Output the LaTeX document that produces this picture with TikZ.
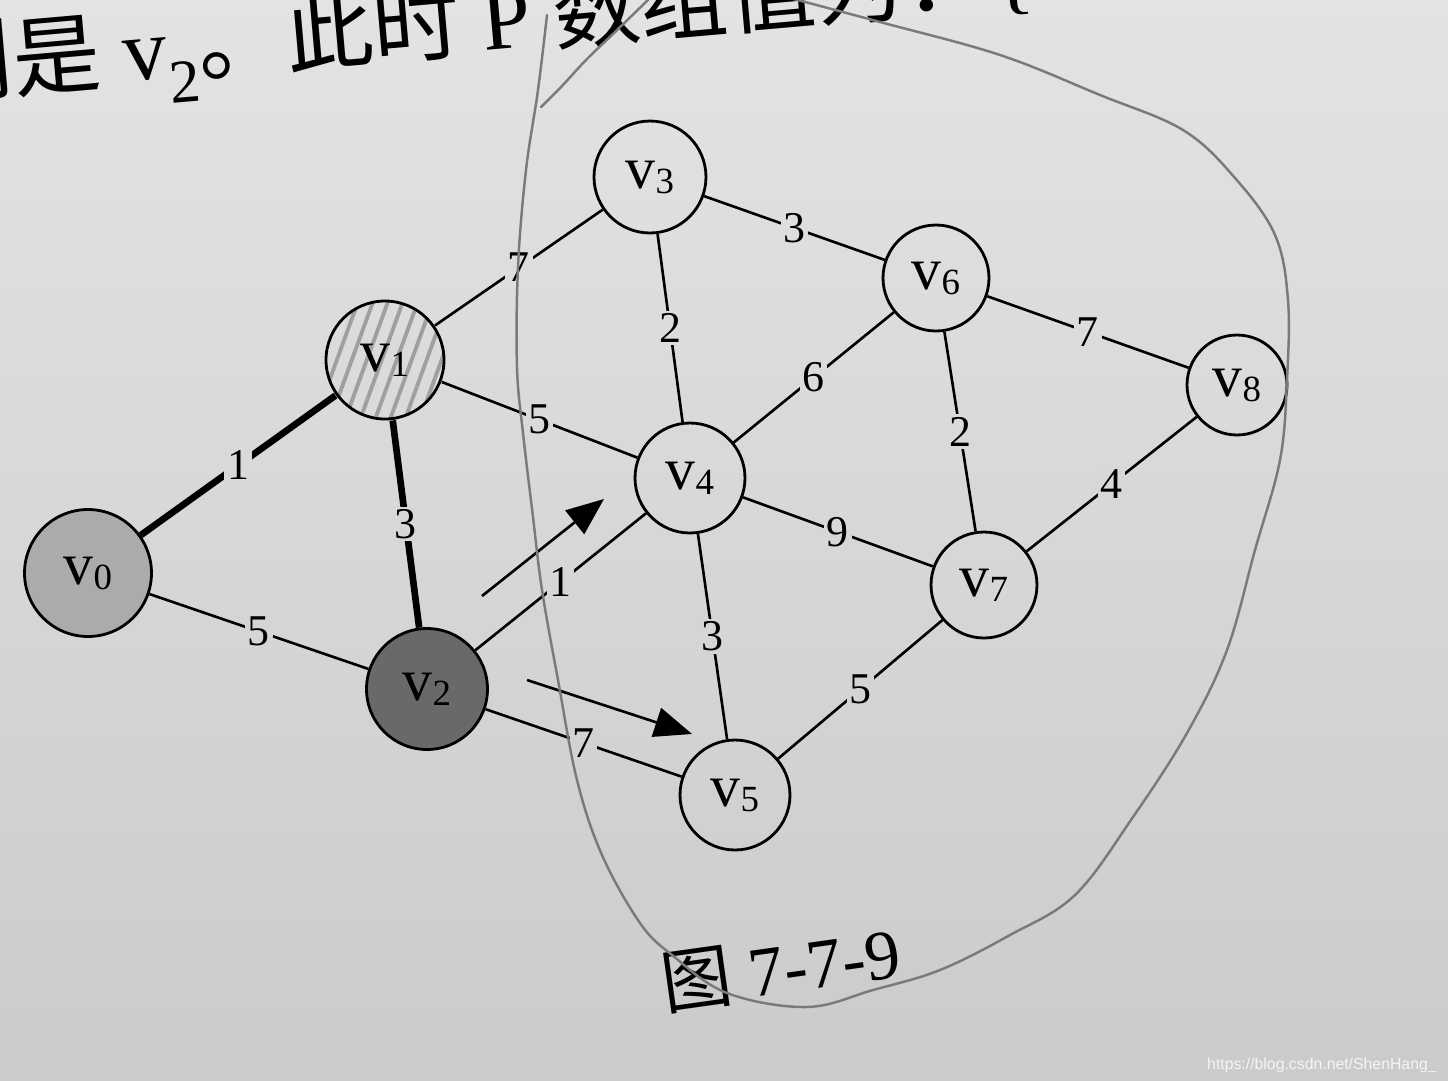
\documentclass[tikz,border=0pt]{standalone}
\usepackage{fontspec}
\setmainfont{Liberation Serif}
\newfontfamily\cjk{Noto Sans CJK SC}
\newfontfamily\wmfont{Liberation Sans}
\usetikzlibrary{arrows.meta, patterns.meta}
\definecolor{paperTop}{RGB}{229,227,226}
\definecolor{paperBot}{RGB}{204,202,202}
\definecolor{lightdot}{RGB}{172,170,170}
\definecolor{darkdot}{RGB}{106,104,104}
\definecolor{pencilgray}{RGB}{122,122,124}
\newcommand{\vlab}[1]{v\raisebox{-0.1cm}{\fontsize{21}{21}\selectfont #1}}
\tikzset{
main/.style={draw, circle, line width=1.6pt, inner sep=0pt, font=\fontsize{34}{34}\selectfont}, % the vertices
wt/.style={fill=paperTop!#1!paperBot, inner sep=1.5pt, font=\fontsize{25}{25}\selectfont}, % weight on an edge, value = how high on the page
plain/.style={line width=1.5pt}, % ordinary edge
heavy/.style={line width=3.8pt}, % edges already in the tree
pointer/.style={line width=1.5pt, -{Triangle[length=0.75cm, width=0.6cm]}}, % the two hints
pencil/.style={draw=pencilgray, line width=1.4pt, line cap=round}, % hand drawn loop
}

\begin{document}
\begin{tikzpicture}[x=0.02cm, y=-0.02cm]
    \useasboundingbox (0,0) rectangle (1448,1080);
    \clip (0,0) rectangle (1448,1080);
    \shade[top color=paperTop, bottom color=paperBot] (0,0) rectangle (1448,1080);

    % line of text from the page above the figure
    \node[anchor=base west, rotate=5, inner sep=0pt, font=\fontsize{50}{50}\selectfont] (head) at (-72,99)
        {{\cjk 则是} v\textsubscript{2}{\cjk 。此时} P {\cjk 数组值为：}\{};

    \node[main, fill=lightdot, minimum size=2.54cm] (v0) at (88,573) {\vlab{0}};
    \node[main, minimum size=2.36cm, pattern={Lines[angle=70, distance=8pt, line width=2.2pt]}, pattern color=gray!75] (v1) at (385,360) {\vlab{1}};
    \node[main, fill=darkdot, minimum size=2.42cm] (v2) at (427,689) {\vlab{2}};
    \node[main, minimum size=2.24cm] (v3) at (650,177) {\vlab{3}};
    \node[main, minimum size=2.2cm] (v4) at (690,478) {\vlab{4}};
    \node[main, minimum size=2.2cm] (v5) at (735,795) {\vlab{5}};
    \node[main, minimum size=2.12cm] (v6) at (936,278) {\vlab{6}};
    \node[main, minimum size=2.12cm] (v7) at (984,585) {\vlab{7}};
    \node[main, minimum size=2.0cm] (v8) at (1237,385) {\vlab{8}};

    \draw [heavy] (v0) -- node[wt=57] {1} (v1);
    \draw [plain] (v0) -- node[wt=42] {5} (v2);
    \draw [heavy] (v1) -- node[wt=51] {3} (v2);
    \draw [plain] (v1) -- node[wt=75] {7} (v3);
    \draw [plain] (v1) -- node[wt=61] {5} (v4);
    \draw [plain] (v2) -- node[wt=46] {1} (v4);
    \draw [plain] (v2) -- node[wt=31] {7} (v5);
    \draw [plain] (v3) -- node[wt=70] {2} (v4);
    \draw [plain] (v3) -- node[wt=79] {3} (v6);
    \draw [plain] (v4) -- node[wt=65] {6} (v6);
    \draw [plain] (v4) -- node[wt=41] {3} (v5);
    \draw [plain] (v4) -- node[wt=51] {9} (v7);
    \draw [plain] (v6) -- node[wt=60] {2} (v7);
    \draw [plain] (v6) -- node[wt=69] {7} (v8);
    \draw [plain] (v7) -- node[wt=55] {4} (v8);
    \draw [plain] (v5) -- node[wt=36] {5} (v7);

    \coordinate (a1s) at (482,596);
    \coordinate (a1e) at (604,499);
    \coordinate (a2s) at (527,680);
    \coordinate (a2e) at (692,734);
    \draw [pointer] (a1s) -- (a1e);
    \draw [pointer] (a2s) -- (a2e);

    \node[anchor=base west, rotate=8, inner sep=0pt, font=\fontsize{40}{40}\selectfont] (cap) at (665,1010) {{\cjk 图} 7-7-9};

    % pencil marks
    \draw [pencil] plot[smooth, tension=0.6] coordinates {(547,15) (538,90) (526,170) (518,267) (517,367) (523,433) (533,517) (542,590) (558,680) (577,780) (602,855) (640,923) (672,955) (727,993) (807,1007) (873,990) (940,970) (1010,935) (1075,895) (1133,817) (1187,733) (1227,650) (1255,550) (1280,460) (1287,380) (1288,300) (1275,235) (1235,178) (1183,130) (1100,95) (1000,55) (880,22) (790,-2)};
    \draw [pencil] plot[smooth, tension=0.6] coordinates {(541,107) (562,86) (586,60) (614,33) (650,-2)};

    \node[anchor=south east, inner sep=0pt, text=white!92!gray, font=\wmfont\fontsize{9}{9}\selectfont] (mark) at (1437,1073) {https://blog.csdn.net/ShenHang\_};
\end{tikzpicture}
\end{document}
